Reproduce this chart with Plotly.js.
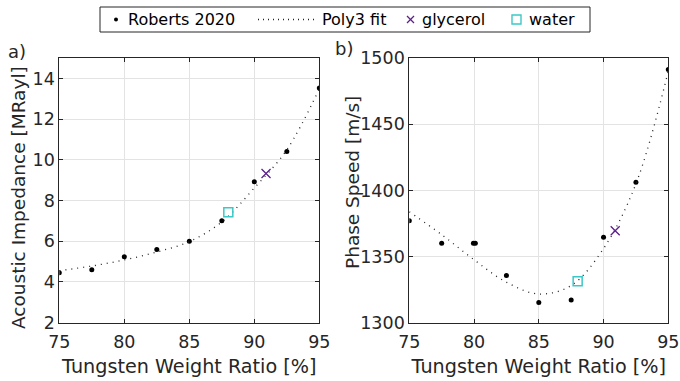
<!DOCTYPE html>
<html>
<head>
<meta charset="utf-8">
<script src="https://cdn.plot.ly/plotly-3.0.1.min.js"></script>
<style>html,body{margin:0;padding:0;background:#fff}#plot{width:680px;height:381px}</style>
</head>
<body>
<div id="plot"></div>
<script>
// Tungsten weight ratio [%]
const tungsten = [75, 77.5, 80, 82.5, 85, 87.5, 90, 92.5, 95];
// a) Acoustic impedance [MRayl], Roberts 2020
const impedance = [4.45, 4.6, 5.23, 5.59, 6.0, 7.01, 8.92, 10.41, 13.54];
// b) Phase speed [m/s], Roberts 2020
const speedX = [75, 77.5, 79.95, 80.1, 82.5, 85, 87.5, 90, 92.5, 95];
const speed = [1377, 1360, 1360, 1360, 1335.6, 1315.2, 1317, 1364.5, 1406.2, 1491.5];
// Poly3 fit curves
const fitX = [75, 77.5, 80, 82.5, 85, 87.5, 90, 92.5, 95];
const fitImpedance = [4.55, 4.78, 5.08, 5.47, 5.98, 6.95, 8.62, 10.5, 13.5];
const fitSpeed = [1383.8, 1366.5, 1347.5, 1330.5, 1321.6, 1328, 1356, 1405, 1490.4];
// glycerol and water points
const glycerolX = [90.9], glycerolZ = [9.33], glycerolC = [1369.5];
const waterX = [88.0], waterZ = [7.43], waterC = [1331.2];
// legend labels and axis titles
const legendLabels = ['Roberts 2020', 'Poly3 fit', 'glycerol', 'water'];
const xTitle = 'Tungsten Weight Ratio [%]';
const yTitleA = 'Acoustic Impedance [MRayl]';
const yTitleB = 'Phase Speed [m/s]';

const W = 680, H = 381;
const dark = '#262626';
const purple = '#5a1f8a';
const cyan = '#3cc8c8';
const FF = 'DejaVu Sans';
const fitLine = {color: '#222', width: 1.3, dash: '1px,5px'};
const traces = [
  {x: tungsten, y: impedance, type: 'scatter', mode: 'markers', name: legendLabels[0],
   marker: {color: '#000', size: 5}, xaxis: 'x', yaxis: 'y'},
  {x: fitX, y: fitImpedance, type: 'scatter', mode: 'lines', name: legendLabels[1],
   line: Object.assign({shape: 'spline'}, fitLine), xaxis: 'x', yaxis: 'y'},
  {x: glycerolX, y: glycerolZ, type: 'scatter', mode: 'markers', name: legendLabels[2],
   marker: {symbol: 'x-thin-open', size: 9, line: {color: purple, width: 1.3}, color: purple}, xaxis: 'x', yaxis: 'y'},
  {x: waterX, y: waterZ, type: 'scatter', mode: 'markers', name: legendLabels[3],
   marker: {symbol: 'square-open', size: 9, line: {color: cyan, width: 1.5}, color: cyan}, xaxis: 'x', yaxis: 'y'},
  {x: speedX, y: speed, type: 'scatter', mode: 'markers', name: legendLabels[0],
   marker: {color: '#000', size: 5}, xaxis: 'x2', yaxis: 'y2'},
  {x: fitX, y: fitSpeed, type: 'scatter', mode: 'lines', name: legendLabels[1],
   line: Object.assign({shape: 'spline'}, fitLine), xaxis: 'x2', yaxis: 'y2'},
  {x: glycerolX, y: glycerolC, type: 'scatter', mode: 'markers', name: legendLabels[2],
   marker: {symbol: 'x-thin-open', size: 9, line: {color: purple, width: 1.3}, color: purple}, xaxis: 'x2', yaxis: 'y2'},
  {x: waterX, y: waterC, type: 'scatter', mode: 'markers', name: legendLabels[3],
   marker: {symbol: 'square-open', size: 9, line: {color: cyan, width: 1.5}, color: cyan}, xaxis: 'x2', yaxis: 'y2'}
];

const tickFont = {family: FF, size: 17.5, color: dark};
const xTitleFont = {family: FF, size: 19.2, color: dark};
const yTitleFont = {family: FF, size: 18.5, color: dark};
function ax(extra) {
  return Object.assign({
    showline: true, linecolor: dark, linewidth: 1, mirror: 'allticks',
    ticks: 'inside', ticklen: 4, tickcolor: dark, tickwidth: 1,
    showgrid: true, gridcolor: '#e3e3e3', gridwidth: 1, zeroline: false,
    tickfont: tickFont
  }, extra);
}

// legend box drawn in pixel positions (converted to paper fractions)
const px = v => v / W, py = v => 1 - v / H;
const legY = 19.5;
const shapes = [
  {type: 'rect', xref: 'paper', yref: 'paper', x0: px(100), x1: px(590), y0: py(7), y1: py(32),
   line: {color: dark, width: 1}, fillcolor: '#fff', layer: 'above'},
  {type: 'circle', xref: 'paper', yref: 'paper', x0: px(114), x1: px(118), y0: py(legY - 2), y1: py(legY + 2),
   line: {color: '#000', width: 0}, fillcolor: '#000', layer: 'above'},
  {type: 'line', xref: 'paper', yref: 'paper', x0: px(258), x1: px(316), y0: py(legY), y1: py(legY),
   line: {color: '#222', width: 1.3, dash: '1px,4px'}, layer: 'above'},
  {type: 'line', xref: 'paper', yref: 'paper', x0: px(407), x1: px(414), y0: py(legY - 3.5), y1: py(legY + 3.5),
   line: {color: purple, width: 1.2}, layer: 'above'},
  {type: 'line', xref: 'paper', yref: 'paper', x0: px(407), x1: px(414), y0: py(legY + 3.5), y1: py(legY - 3.5),
   line: {color: purple, width: 1.2}, layer: 'above'},
  {type: 'rect', xref: 'paper', yref: 'paper', x0: px(512), x1: px(521), y0: py(legY - 4.5), y1: py(legY + 4.5),
   line: {color: cyan, width: 1.4}, layer: 'above'}
];
const legTextX = [126, 320, 420, 527];
const annotations = legendLabels.map((t, i) => ({
  text: t, xref: 'paper', yref: 'paper', x: px(legTextX[i]), y: py(legY), xanchor: 'left', yanchor: 'middle',
  showarrow: false, font: {family: FF, size: 16, color: '#000'}
}));
annotations.push(
  {text: 'a)', xref: 'paper', yref: 'paper', x: px(6), y: py(39), xanchor: 'left', yanchor: 'top', showarrow: false,
   font: {family: FF, size: 18, color: dark}},
  {text: 'b)', xref: 'paper', yref: 'paper', x: px(333), y: py(36), xanchor: 'left', yanchor: 'top', showarrow: false,
   font: {family: FF, size: 18, color: dark}},
  {text: yTitleA, xref: 'paper', yref: 'paper', x: px(18), y: py(198), xanchor: 'center', yanchor: 'middle',
   textangle: -90, showarrow: false, font: yTitleFont},
  {text: yTitleB, xref: 'paper', yref: 'paper', x: px(352), y: py(183), xanchor: 'center', yanchor: 'middle',
   textangle: -90, showarrow: false, font: yTitleFont}
);

const layout = {
  width: W, height: H,
  margin: {l: 0, r: 0, t: 0, b: 0},
  paper_bgcolor: '#fff', plot_bgcolor: '#fff',
  font: {family: FF, color: dark},
  showlegend: false,
  xaxis: ax({domain: [0.0872, 0.4696], range: [75, 95], tickvals: [75, 80, 85, 90, 95], anchor: 'y', ticklabelstandoff: 3,
    title: {text: xTitle, standoff: 9, font: xTitleFont}}),
  yaxis: ax({domain: [0.1535, 0.847], range: [2, 15], tickvals: [2, 4, 6, 8, 10, 12, 14], anchor: 'x'}),
  xaxis2: ax({domain: [0.6019, 0.9828], range: [75, 95], tickvals: [75, 80, 85, 90, 95], anchor: 'y2', ticklabelstandoff: 3,
    title: {text: xTitle, standoff: 9, font: xTitleFont}}),
  yaxis2: ax({domain: [0.1535, 0.847], range: [1300, 1500], tickvals: [1300, 1350, 1400, 1450, 1500], anchor: 'x2'}),
  shapes: shapes,
  annotations: annotations
};

Plotly.newPlot('plot', traces, layout, {displayModeBar: false, staticPlot: true});
</script>
</body>
</html>
